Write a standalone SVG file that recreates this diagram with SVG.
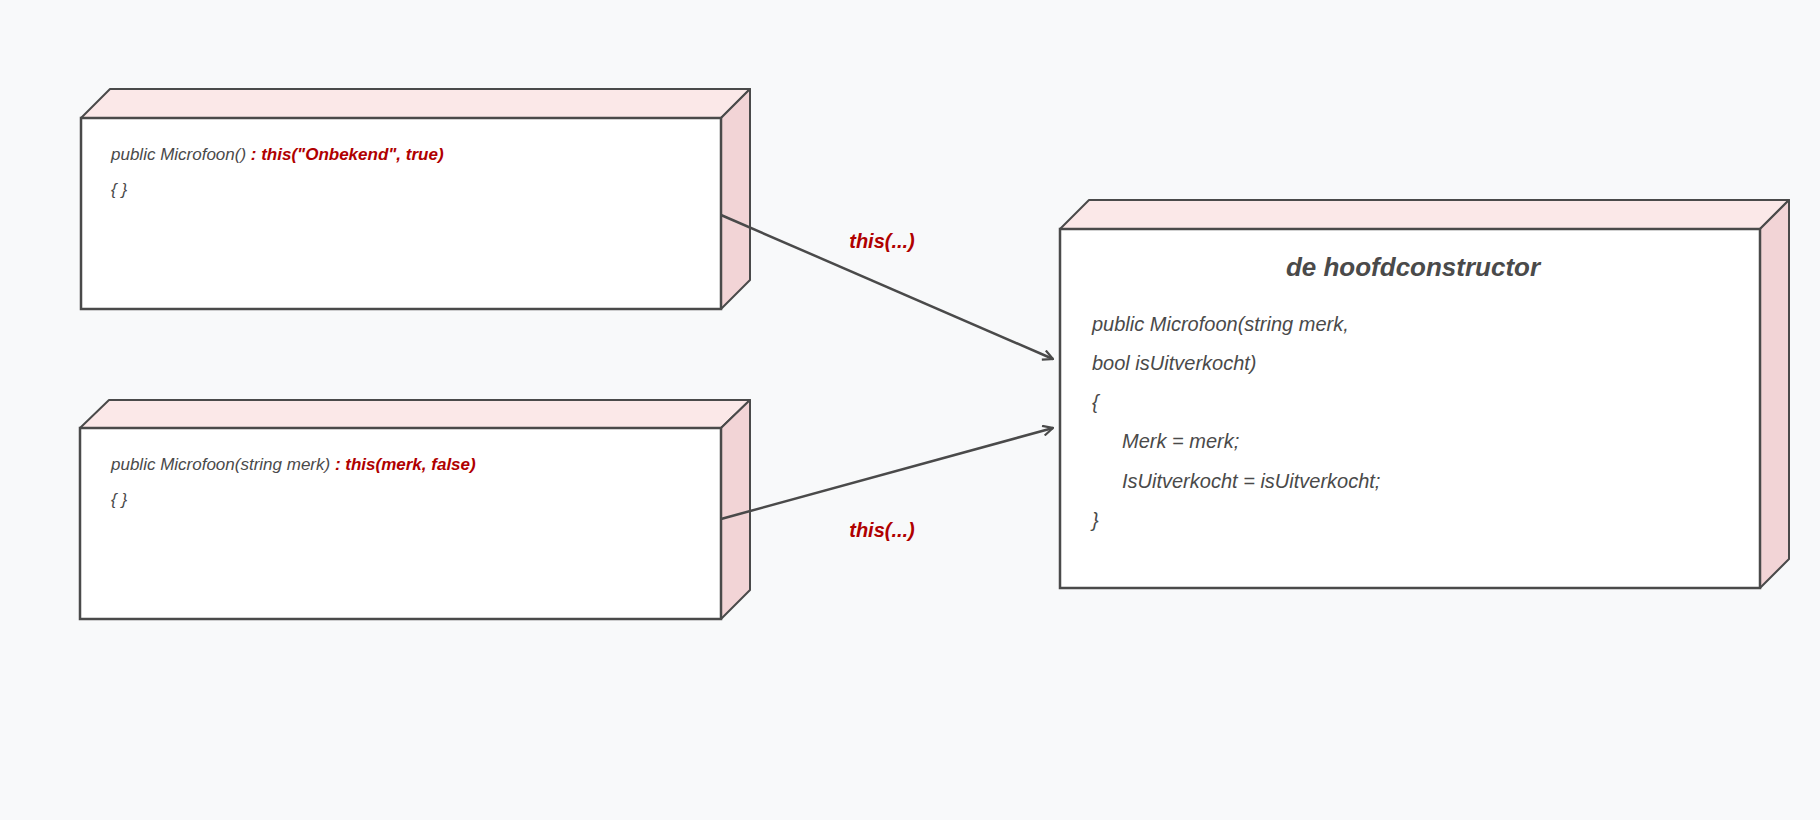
<svg xmlns="http://www.w3.org/2000/svg" width="1820" height="820" viewBox="0 0 1820 820">
<style>
.top{fill:#fbe8e8;stroke:#4a4a4a;stroke-width:2;stroke-linejoin:round}
.side{fill:#f2d4d6;stroke:#4a4a4a;stroke-width:2;stroke-linejoin:round}
.front{fill:#ffffff;stroke:#4a4a4a;stroke-width:2.5}
.code{font-family:"Liberation Sans",sans-serif;font-style:italic;fill:#4a4a4a}
.red{fill:#b00000;font-weight:bold}
.lbl{font-family:"Liberation Sans",sans-serif;font-style:italic;font-weight:bold;fill:#b00000;font-size:20px}
.title{font-family:"Liberation Sans",sans-serif;font-style:italic;font-weight:bold;fill:#4a4a4a;font-size:26px}
.conn{stroke:#4a4a4a;stroke-width:2.5;fill:none}
</style>
<defs>
<marker id="ah" viewBox="0 0 12 12" refX="11" refY="6" markerWidth="12" markerHeight="12" markerUnits="userSpaceOnUse" orient="auto">
<path d="M1,1 L11,6 L1,11" fill="none" stroke="#4a4a4a" stroke-width="2.2"/>
</marker>
</defs>
<rect width="1820" height="820" fill="#f8f9fa"/>
<g id="node1">
<polygon class="top" points="81,118 110,89 750,89 721,118"/>
<polygon class="side" points="721,118 750,89 750,280 721,309"/>
<rect class="front" x="81" y="118" width="640" height="191"/>
<text class="code" x="111" y="160" font-size="17">public Microfoon() <tspan class="red">: this("Onbekend", true)</tspan></text>
<text class="code" x="111" y="195" font-size="17">{ }</text>
</g>
<g id="node2">
<polygon class="top" points="80,428 109,400 750,400 721,428"/>
<polygon class="side" points="721,428 750,400 750,590 721,619"/>
<rect class="front" x="80" y="428" width="641" height="191"/>
<text class="code" x="111" y="470" font-size="17">public Microfoon(string merk) <tspan class="red">: this(merk, false)</tspan></text>
<text class="code" x="111" y="505" font-size="17">{ }</text>
</g>
<g id="node3">
<polygon class="top" points="1060,229 1089,200 1789,200 1760,229"/>
<polygon class="side" points="1760,229 1789,200 1789,559 1760,588"/>
<rect class="front" x="1060" y="229" width="700" height="359"/>
<text class="title" x="1413" y="276" text-anchor="middle">de hoofdconstructor</text>
<g class="code" font-size="20">
<text x="1092" y="331">public Microfoon(string merk,</text>
<text x="1092" y="370">bool isUitverkocht)</text>
<text x="1092" y="409">{</text>
<text x="1122" y="448">Merk = merk;</text>
<text x="1122" y="488">IsUitverkocht = isUitverkocht;</text>
<text x="1092" y="527">}</text>
</g>
</g>
<g id="connectors">
<path class="conn" d="M721,215 L1053,359" marker-end="url(#ah)"/>
<path class="conn" d="M721,519 L1053,428" marker-end="url(#ah)"/>
<text class="lbl" x="882" y="248" text-anchor="middle">this(...)</text>
<text class="lbl" x="882" y="537" text-anchor="middle">this(...)</text>
</g>
</svg>
